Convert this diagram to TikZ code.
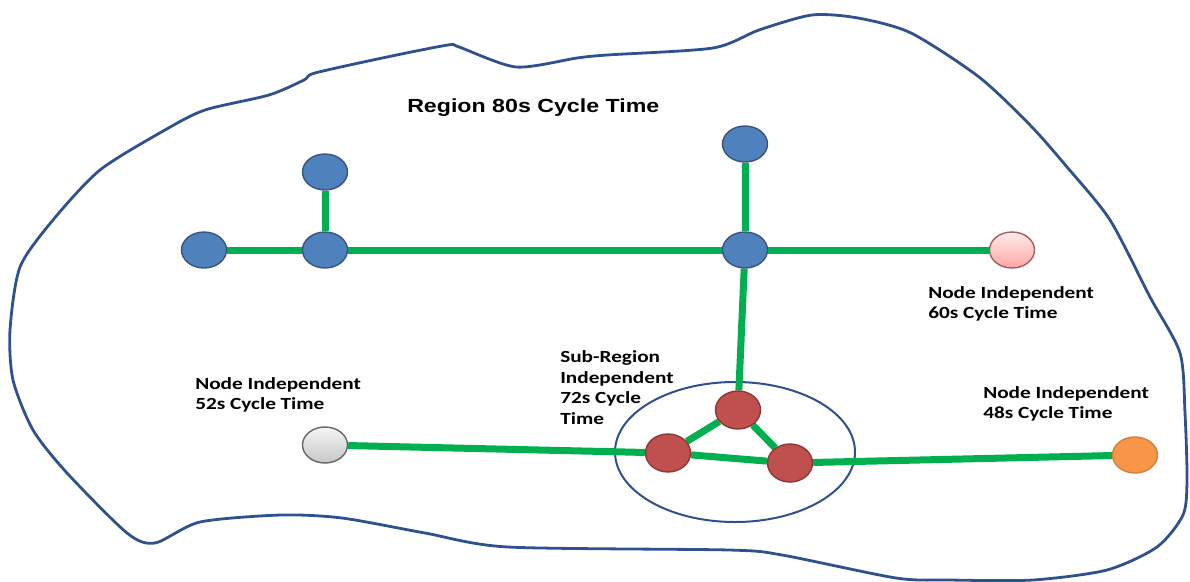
\documentclass[tikz,border=0pt]{standalone}
\usepackage{fontspec}
\setmainfont{Carlito}
\newfontfamily\regionfont{Liberation Sans}
\usetikzlibrary{shapes.geometric,backgrounds}
\definecolor{hubblue}{RGB}{79,129,189}
\definecolor{hubedge}{RGB}{56,85,130}
\definecolor{subred}{RGB}{192,80,77}
\definecolor{subedge}{RGB}{140,56,54}
\definecolor{linkgreen}{RGB}{0,176,80}
\definecolor{outline}{RGB}{47,82,143}
\definecolor{orangenode}{RGB}{247,150,70}
\tikzset{hub/.style={ellipse, draw=hubedge, fill=hubblue, line width=1.4pt,
            minimum width=45pt, minimum height=36pt, inner sep=0pt},
         subnode/.style={hub, draw=subedge, fill=subred, minimum height=38pt},
         link/.style={draw=linkgreen, line width=7pt},
         lbl/.style={anchor=base west, align=left, inner sep=0pt, xscale=1.25,
            font=\bfseries\fontsize{17}{20}\selectfont}}

\begin{document}
\begin{tikzpicture}[x=1pt, y=-1pt]
        \useasboundingbox (0,0) rectangle (1190,581);
        % main network
        \node[hub] (w1) at (204,250) {};
        \node[hub] (w2) at (325,172) {};
        \node[hub] (w3) at (325,250) {};
        \node[hub] (e1) at (745,144) {};
        \node[hub] (e2) at (745,250) {};
        \node[hub, draw=subedge!80, top color=red!8, bottom color=red!35] (n60) at (1012,250) {};
        \node[hub, draw=black!60, top color=black!4, bottom color=black!22] (n52) at (325,445) {};
        \node[hub, draw=orangenode!85!black, fill=orangenode] (n48) at (1135,455) {};
        % sub-region
        \node[subnode] (s1) at (738,410) {};
        \node[subnode] (s2) at (668,453) {};
        \node[subnode] (s3) at (790,463) {};
        % labels (base = last line)
        \node[anchor=base west, inner sep=0pt, xscale=1.22,
            font=\regionfont\bfseries\fontsize{19}{22}\selectfont] (title) at (407,112) {Region 80s Cycle Time};
        \node[lbl] (t60) at (928,318) {Node Independent\\60s Cycle Time};
        \node[lbl] (t52) at (195,409) {Node Independent\\52s Cycle Time};
        \node[lbl, font=\bfseries\fontsize{17}{20.5}\selectfont] (t72) at (560,424) {Sub-Region\\Independent\\72s Cycle\\Time};
        \node[lbl] (t48) at (983,418) {Node Independent\\48s Cycle Time};
        \begin{scope}[on background layer]
            \draw[outline, line width=2.8pt, line join=round]
                plot[smooth cycle, tension=0.45] coordinates {
                (205,110) (269,95) (304,80) (315,73) (387,57) (448,45) (459,47)
                (516,67) (577,58) (607,55) (713,48) (759,30) (812,15) (858,18)
                (911,33) (979,77) (1030,125) (1067,167) (1110,220) (1150,297)
                (1180,353) (1185,413) (1187,480) (1183,515) (1157,547) (1107,570)
                (1033,580) (949,580) (896,578) (782,555) (729,550) (508,547)
                (425,533) (342,518) (281,515) (200,522) (155,543) (127,533)
                (67,473) (33,430) (13,380) (10,330) (20,267) (53,220) (100,170)
                (165,130)};
            \node[ellipse, draw=outline, line width=2pt, minimum width=240pt,
                minimum height=140pt] (sub) at (735,452) {};
            \draw[link] (w1) -- (w3);
            \draw[link] (w3) -- (w2);
            \draw[link] (w3) -- (e2);
            \draw[link] (e2) -- (e1);
            \draw[link] (e2) -- (n60);
            \draw[link] (e2) -- (s1);
            \draw[link] (s1) -- (s2);
            \draw[link] (s1) -- (s3);
            \draw[link] (s2) -- (s3);
            \draw[link] (n52) -- (s2);
            \draw[link] (s3) -- (n48);
        \end{scope}
    \end{tikzpicture}
\end{document}
